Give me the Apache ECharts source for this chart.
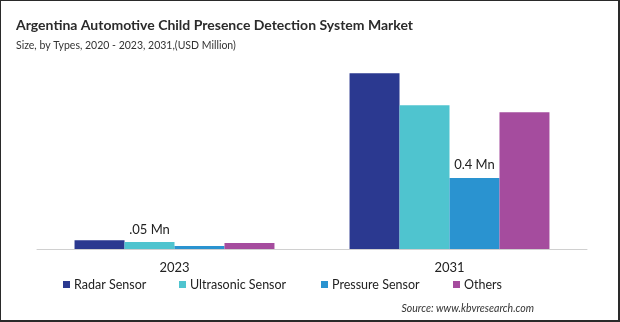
<!DOCTYPE html>
<html><head><meta charset="utf-8">
<script src="https://cdn.jsdelivr.net/npm/echarts@6/dist/echarts.min.js"></script>
<style>
html,body{margin:0;padding:0;background:#fff;}
#c{width:620px;height:322px;box-sizing:border-box;}
#frame{position:absolute;left:0;top:0;width:620px;height:322px;box-sizing:border-box;border:1px solid #2a2a2a;border-right:2px solid #2a2a2a;border-bottom:2px solid #2a2a2a;pointer-events:none;}
</style></head>
<body>
<div id="c"></div><div id="frame"></div>
<script>
const categories = ['2023', '2031'];
const seriesNames = ['Radar Sensor', 'Ultrasonic Sensor', 'Pressure Sensor', 'Others'];
const radarSensor = [0.05, 0.99];
const ultrasonicSensor = [0.04, 0.81];
const pressureSensor = [0.017, 0.40];
const others = [0.034, 0.77];
const labels2023 = '.05 Mn';
const labels2031 = '0.4 Mn';

const colors = ['#2B3990', '#4FC4CF', '#2A93D0', '#A54C9E'];
const values = [radarSensor, ultrasonicSensor, pressureSensor, others];
const font = 'Lato';

const series = seriesNames.map((n, i) => ({
  name: n, type: 'bar', data: values[i].slice(),
  barGap: '0%', barCategoryGap: '27.3%',
  itemStyle: {color: colors[i]},
  label: {show: false}
}));
series[1].data[0] = {value: ultrasonicSensor[0], label: {show: true, position: 'top', distance: 6, formatter: labels2023, color: '#222', fontSize: 13, fontFamily: font}};
series[2].data[1] = {value: pressureSensor[1], label: {show: true, position: 'top', distance: 7, formatter: labels2031, color: '#222', fontSize: 13, fontFamily: font}};

const legendLeft = [63, 179, 321, 453];
const legends = seriesNames.map((n, i) => ({
  data: [n], left: legendLeft[i], top: 278, padding: 0, itemWidth: 7, itemHeight: 7, itemGap: 4,
  icon: 'rect', textStyle: {fontSize: 12.5, color: '#222', fontFamily: font, padding: [0,0,0,-1]}
}));

const chart = echarts.init(document.getElementById('c'), null, {renderer: 'canvas'});
chart.setOption({
  animation: false,
  color: colors,
  title: [
    {text: 'Argentina Automotive Child Presence Detection System Market', left: 11, top: 13,
     textStyle: {fontSize: 14, fontWeight: 'bold', color: '#2b2b2b', fontFamily: font}},
    {text: 'Size, by Types, 2020 - 2023, 2031,(USD Million)', left: 11, top: 35,
     textStyle: {fontSize: 10.5, fontWeight: 'normal', color: '#333', fontFamily: font}},
    {text: 'Source: www.kbvresearch.com', right: 81, top: 298,
     textStyle: {fontSize: 10.5, fontWeight: 'normal', fontStyle: 'italic', color: '#333', fontFamily: font}}
  ],
  legend: legends,
  grid: {left: 37, width: 550, top: 71.5, bottom: 73},
  xAxis: {type: 'category', data: categories,
    axisLine: {lineStyle: {color: '#d0d0d0', width: 1}}, axisTick: {show: false},
    axisLabel: {fontSize: 13, color: '#222', margin: 12, fontFamily: font}},
  yAxis: {type: 'value', min: 0, max: 1.0, show: false, splitLine: {show: false}},
  series: series
});
</script>
</body></html>
